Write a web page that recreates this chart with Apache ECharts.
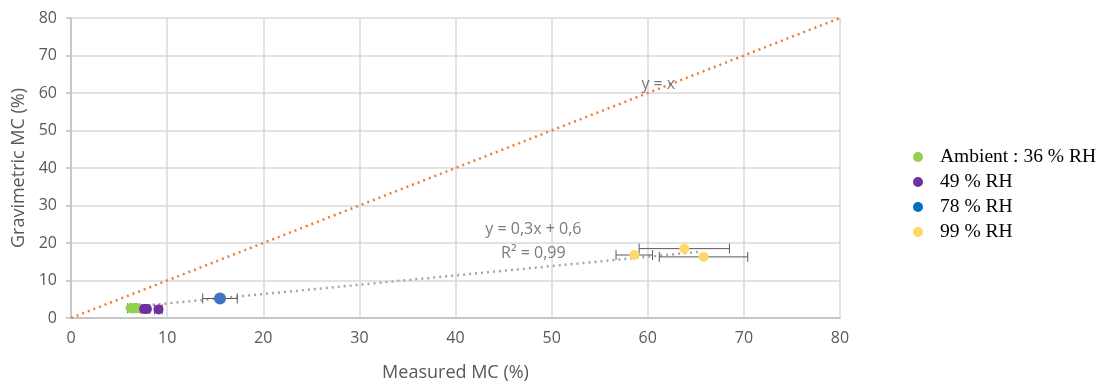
<!DOCTYPE html>
<html><head><meta charset="utf-8">
<script src="https://cdn.jsdelivr.net/npm/echarts@6/dist/echarts.min.js"></script>
<style>html,body{margin:0;padding:0;background:#fff}#c{width:1102px;height:386px}</style>
</head><body><div id="c"></div>
<script>
const seriesNames = ['Ambient : 36 % RH', '49 % RH', '78 % RH', '99 % RH'];
const ambientX = [6.2, 6.5, 6.8];
const ambientY = [2.6, 2.7, 2.6];
const ambientErr = [0.3, 0.3, 0.3];
const rh49X = [7.6, 7.9, 9.1];
const rh49Y = [2.4, 2.4, 2.3];
const rh49Err = [0.3, 0.3, 0.4];
const rh78X = [15.5];
const rh78Y = [5.2];
const rh78Err = [1.8];
const rh99X = [58.6, 63.8, 65.8];
const rh99Y = [16.8, 18.5, 16.3];
const rh99Err = [1.9, 4.7, 4.6];
const identityX = [0, 80];
const identityY = [0, 80];
const trendX = [6.0, 65.5];
const trendY = [2.9, 17.7];
const axisTicks = [0, 10, 20, 30, 40, 50, 60, 70, 80];
const labelIdentity = ['y = x', 61.1, 62.4];
const labelEq = ['y = 0,3x + 0,6', 48.1, 23.6];
const labelR2 = ['R² = 0,99', 48.1, 17.2];

const colors = ['#92D050', '#7030A0', '#4472C4', '#FFD966'];
const groups = [[ambientX, ambientY, ambientErr], [rh49X, rh49Y, rh49Err], [rh78X, rh78Y, rh78Err], [rh99X, rh99Y, rh99Err]];
const zip = (a, b) => a.map((v, i) => [v, b[i]]);

const errData = [];
groups.forEach(g => g[0].forEach((x, i) => errData.push([x - g[2][i], x + g[2][i], g[1][i]])));

const axisFont = {color: '#595959', fontFamily: 'Open Sans', fontSize: 16};
const chart = echarts.init(document.getElementById('c'));
const series = [
  {type: 'line', data: zip(identityX, identityY), symbol: 'none', silent: true,
   lineStyle: {color: '#ED7D31', width: 2.5, type: [2, 4]}, z: 2},
  {type: 'line', data: zip(trendX, trendY), symbol: 'none', silent: true,
   lineStyle: {color: '#A6A6A6', width: 2.5, type: [2, 4]}, z: 2},
  {type: 'custom', z: 3, data: errData, silent: true,
   renderItem: (params, api) => {
     const p1 = api.coord([api.value(0), api.value(2)]);
     const p2 = api.coord([api.value(1), api.value(2)]);
     const h = 5;
     const st = {stroke: '#595959', lineWidth: 1};
     return {type: 'group', children: [
       {type: 'line', shape: {x1: p1[0], y1: p1[1], x2: p2[0], y2: p2[1]}, style: st},
       {type: 'line', shape: {x1: p1[0], y1: p1[1] - h, x2: p1[0], y2: p1[1] + h}, style: st},
       {type: 'line', shape: {x1: p2[0], y1: p2[1] - h, x2: p2[0], y2: p2[1] + h}, style: st}
     ]};
   }}
];
groups.forEach((g, i) => series.push({
  name: seriesNames[i], type: 'scatter', data: zip(g[0], g[1]), symbolSize: i === 2 ? 12 : 10,
  itemStyle: {color: colors[i], opacity: 1}, z: 4
}));
const textLabels = [labelIdentity, labelEq, labelR2];
series.push({
  type: 'scatter', symbolSize: 0, silent: true, z: 5,
  data: textLabels.map(t => ({value: [t[1], t[2]], name: t[0]})),
  label: {show: true, position: 'inside', formatter: p => p.name, color: '#595959', fontFamily: 'Open Sans', fontSize: 16}
});

chart.setOption({
  animation: false,
  grid: {left: 71, right: 262, top: 18, bottom: 68, containLabel: false, outerBoundsMode: 'none'},
  legend: {
    data: seriesNames.map((n, i) => ({name: n, icon: 'circle', itemStyle: {color: i === 2 ? '#0070C0' : colors[i]}})),
    orient: 'vertical', left: 908, top: 142, itemWidth: 10, itemHeight: 10, itemGap: 5,
    textStyle: {fontFamily: 'Liberation Serif', fontSize: 19.5, color: '#000', padding: [0, 0, 0, 12]}
  },
  xAxis: {
    type: 'value', min: 0, max: 80, interval: 10,
    name: 'Measured MC (%)', nameLocation: 'middle', nameGap: 46,
    nameTextStyle: {color: '#595959', fontFamily: 'Open Sans', fontSize: 18},
    axisLine: {lineStyle: {color: '#BFBFBF', width: 1.5}},
    axisTick: {show: false},
    axisLabel: Object.assign({margin: 12}, axisFont),
    splitLine: {lineStyle: {color: '#D9D9D9', width: 1.5}}
  },
  yAxis: {
    type: 'value', min: 0, max: 80, interval: 10,
    name: 'Gravimetric MC (%)', nameLocation: 'middle', nameGap: 42,
    nameTextStyle: {color: '#595959', fontFamily: 'Open Sans', fontSize: 18},
    axisLine: {show: true, lineStyle: {color: '#BFBFBF', width: 1.5}},
    axisTick: {show: true, length: 5, lineStyle: {color: '#BFBFBF', width: 1.5}},
    axisLabel: Object.assign({margin: 14}, axisFont),
    splitLine: {lineStyle: {color: '#D9D9D9', width: 1.5}}
  },
  series: series
});
</script></body></html>
